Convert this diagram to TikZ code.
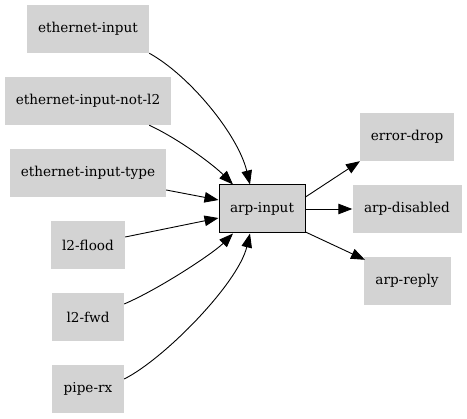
\documentclass[tikz,border=0pt]{standalone}
\usepackage{fontspec}
\setmainfont{DejaVu Serif}
\usetikzlibrary{arrows.meta}
\begin{document}
\begin{tikzpicture}[x=1pt,y=-1pt,
  nd/.style={fill={rgb,255:red,211;green,211;blue,211}, draw=none, minimum height=48pt, inner sep=0pt, font=\fontsize{13.6}{16}\selectfont},
  mainnd/.style={nd, draw=black, line width=1pt},
  arr/.style={-{Triangle[length=14pt,width=10.5pt]}, line width=0.9pt}]
\useasboundingbox[fill=white] (0,0) rectangle (467,419);
\node[nd, minimum width=122pt] (ei) at (88,29) {ethernet-input};
\node[nd, minimum width=166pt] (eil) at (88,101) {ethernet-input-not-l2};
\node[nd, minimum width=156pt] (eit) at (88,173) {ethernet-input-type};
\node[nd, minimum width=74pt] (lfl) at (88,245) {l2-flood};
\node[nd, minimum width=72pt] (lfw) at (88,317) {l2-fwd};
\node[nd, minimum width=72pt] (prx) at (88,389) {pipe-rx};
\node[mainnd, minimum width=86pt] (ai) at (262,209) {arp-input};
\node[nd, minimum width=94pt] (ed) at (407,137) {error-drop};
\node[nd, minimum width=109pt] (ad) at (407,209) {arp-disabled};
\node[nd, minimum width=87pt] (ar) at (407,281) {arp-reply};

\draw[arr] (ei.south east) .. controls +(40,22) and +(-12,-50) .. ([xshift=-12pt]ai.north);
\draw[arr] ([xshift=-22pt]eil.south east) .. controls +(30,14) and +(-20,-20) .. ([xshift=-29pt]ai.north);
\draw[arr] ([yshift=-17pt]eit.east) -- ([yshift=9pt]ai.west);
\draw[arr] ([yshift=8pt]lfl.east) -- ([yshift=-9pt]ai.west);
\draw[arr] ([yshift=13pt]lfw.east) .. controls +(35,-15) and +(-20,20) .. ([xshift=-29pt]ai.south);
\draw[arr] ([yshift=10pt]prx.east) .. controls +(40,-20) and +(-12,50) .. ([xshift=-12pt]ai.south);

\draw[arr] ([yshift=12pt]ai.east) -- ([xshift=-47pt]ed.south);
\draw[arr] (ai.east) -- (ad.west);
\draw[arr] ([yshift=-23pt]ai.east) -- ([xshift=-42pt,yshift=-3pt]ar.north);
\end{tikzpicture}
\end{document}
